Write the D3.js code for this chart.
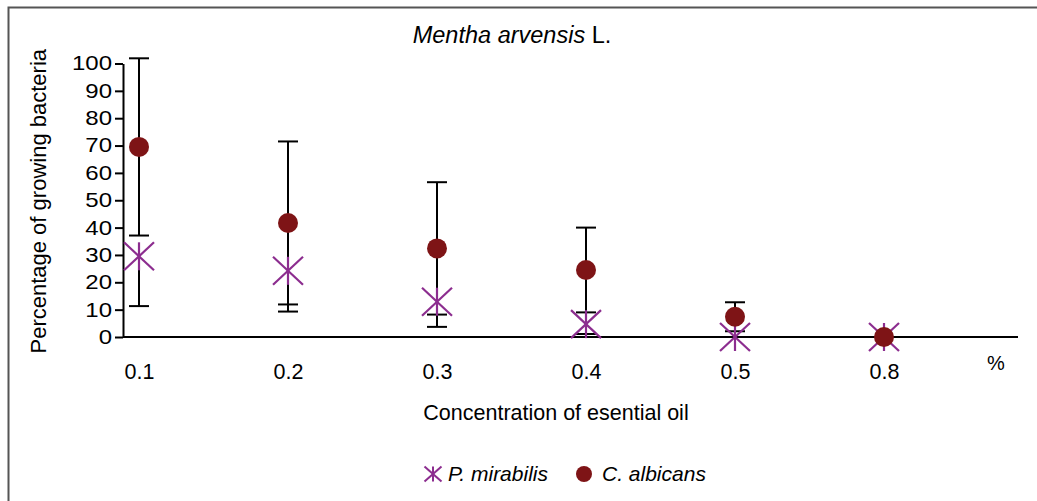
<!DOCTYPE html>
<html>
<head>
<meta charset="utf-8">
<script src="https://cdn.jsdelivr.net/npm/d3@7"></script>
<style>
  body { margin: 0; background: #fff; }
  text { font-family: "Liberation Sans", Arial, sans-serif; fill: #000; }
</style>
</head>
<body>
<div id="chart"></div>
<script>
// concentrations of essential oil (%)
const categories = ['0.1', '0.2', '0.3', '0.4', '0.5', '0.8'];
const yTicks = [0, 10, 20, 30, 40, 50, 60, 70, 80, 90, 100];

// C. albicans: mean and symmetric error
const albicansMean = [69.5, 41.7, 32.4, 24.5, 7.4, 0];
const albicansErr = [32.4, 29.8, 24.2, 15.5, 5.3, 0];

// P. mirabilis: mean and minus-only error
const mirabilisMean = [29.5, 24.2, 12.9, 4.7, 0, 0];
const mirabilisErrMinus = [18.2, 14.9, 9.2, 3.6, 0, 0];

const width = 1037, height = 501;
const purple = '#8c2d8f', darkRed = '#7e1416';
const font = '"Liberation Sans", Arial, sans-serif';

const svg = d3.select('#chart').append('svg')
  .attr('width', width).attr('height', height);

// outer frame, runs off the right and bottom edges
svg.append('rect')
  .attr('x', 8.5).attr('y', 7.5)
  .attr('width', width + 20).attr('height', height + 20)
  .attr('fill', 'none').attr('stroke', '#555').attr('stroke-width', 2);

const y = d3.scaleLinear().domain([0, 100]).range([337, 63.5]);
const x = d3.scalePoint().domain(categories).range([139, 884]);
const axisLeftX = 123, axisRightX = 1018;

// y axis (labels are a little wider than plain Arial in the original)
const yAxis = svg.append('g')
  .attr('transform', `translate(${axisLeftX},0)`)
  .call(d3.axisLeft(y).tickValues(yTicks).tickSize(8).tickSizeOuter(0).tickPadding(3));
yAxis.select('.domain').attr('stroke', '#000').attr('stroke-width', 2);
yAxis.selectAll('.tick line').attr('stroke', '#000').attr('stroke-width', 2);
yAxis.selectAll('.tick text')
  .attr('x', -11 / 1.2)
  .attr('transform', 'scale(1.2,1)')
  .style('font-size', '20px').style('font-family', font);

// x axis labels
const xAxis = svg.append('g')
  .attr('transform', `translate(0,${y(0)})`)
  .call(d3.axisBottom(x).tickSize(0).tickPadding(27));
xAxis.select('.domain').remove();
xAxis.selectAll('.tick text').style('font-size', '21.5px').style('font-family', font);

// error bars
function errorBars(g, means, lo, hi) {
  const cap = 10;
  const grp = g.append('g');
  categories.forEach((c, i) => {
    const top = y(means[i] + hi[i]);
    const bot = y(means[i] - lo[i]);
    const cx = x(c);
    grp.append('line').attr('x1', cx).attr('x2', cx).attr('y1', top).attr('y2', bot);
    if (hi[i] > 0) grp.append('line').attr('x1', cx - cap).attr('x2', cx + cap).attr('y1', top).attr('y2', top);
    if (lo[i] > 0) grp.append('line').attr('x1', cx - cap).attr('x2', cx + cap).attr('y1', bot).attr('y2', bot);
  });
  grp.selectAll('line').attr('stroke', '#000').attr('stroke-width', 2);
}
errorBars(svg, albicansMean, albicansErr, albicansErr);
errorBars(svg, mirabilisMean, mirabilisErrMinus, mirabilisMean.map(() => 0));

// x axis line over the bars
svg.append('line')
  .attr('x1', axisLeftX).attr('x2', axisRightX)
  .attr('y1', y(0)).attr('y2', y(0))
  .attr('stroke', '#000').attr('stroke-width', 2);

function asterisk(g, cx, cy, w, h, sw) {
  const a = g.append('g').attr('transform', `translate(${cx},${cy})`)
    .attr('stroke', purple).attr('stroke-width', sw);
  a.append('line').attr('x1', -w).attr('y1', -h).attr('x2', w).attr('y2', h);
  a.append('line').attr('x1', -w).attr('y1', h).attr('x2', w).attr('y2', -h);
  a.append('line').attr('x1', 0).attr('y1', -h).attr('x2', 0).attr('y2', h);
}

// P. mirabilis markers
const pm = svg.append('g');
mirabilisMean.forEach((v, i) => asterisk(pm, x(categories[i]), y(v), 15, 14, 2.2));

// C. albicans markers
svg.append('g').selectAll('circle').data(albicansMean).join('circle')
  .attr('cx', (d, i) => x(categories[i]))
  .attr('cy', d => y(d))
  .attr('r', 10)
  .attr('fill', darkRed);

// title
const title = svg.append('text')
  .attr('x', 512).attr('y', 43)
  .attr('text-anchor', 'middle')
  .style('font-size', '23.5px');
title.append('tspan').style('font-style', 'italic').text('Mentha arvensis');
title.append('tspan').text(' L.');

// axis titles
svg.append('text')
  .attr('transform', `translate(46,${(y(0) + y(100)) / 2 + 1}) rotate(-90)`)
  .attr('text-anchor', 'middle')
  .style('font-size', '22px')
  .text('Percentage of growing bacteria');

svg.append('text')
  .attr('x', 556).attr('y', 420)
  .attr('text-anchor', 'middle')
  .style('font-size', '21.5px')
  .text('Concentration of esential oil');

svg.append('text')
  .attr('x', 996).attr('y', 370)
  .attr('text-anchor', 'middle')
  .style('font-size', '20px')
  .text('%');

// legend
const legend = svg.append('g');
asterisk(legend, 433, 474, 8.5, 7.5, 2);
legend.append('text').attr('x', 448).attr('y', 481)
  .style('font-size', '21px').style('font-style', 'italic').text('P. mirabilis');
legend.append('circle').attr('cx', 584).attr('cy', 474).attr('r', 8).attr('fill', darkRed);
legend.append('text').attr('x', 602).attr('y', 481)
  .style('font-size', '21px').style('font-style', 'italic').text('C. albicans');
</script>
</body>
</html>
